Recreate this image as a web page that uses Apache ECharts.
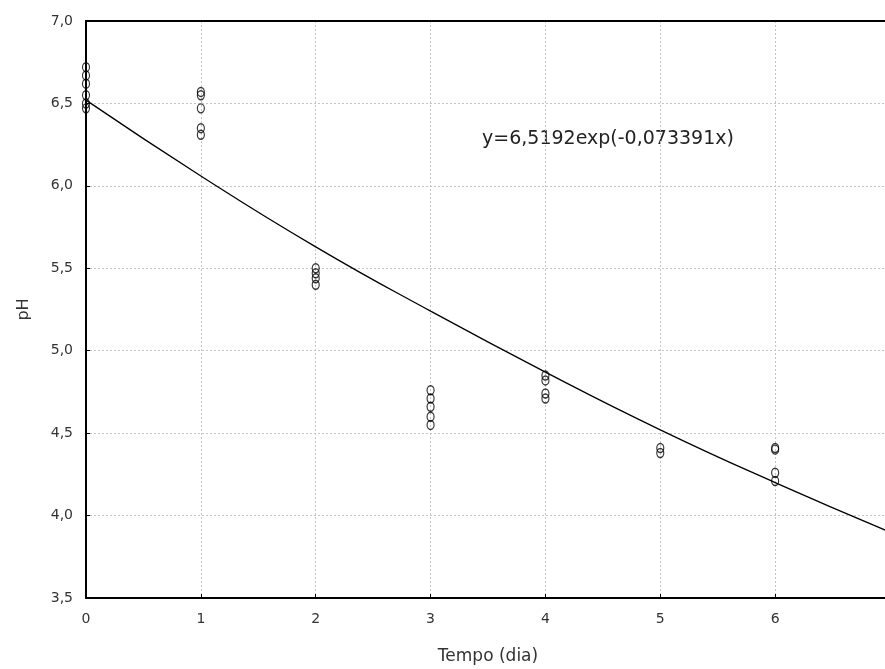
<!DOCTYPE html>
<html>
<head>
<meta charset="utf-8">
<script src="https://cdn.jsdelivr.net/npm/echarts@6/dist/echarts.min.js"></script>
<style>html,body{margin:0;padding:0;background:#fff}#c{width:885px;height:669px}</style>
</head>
<body>
<div id="c"></div>
<script>
// Observed data: day and pH
const obsDay = [0,0,0,0,0,0, 1,1,1,1,1, 2,2,2,2, 3,3,3,3,3, 4,4,4,4, 5,5, 6,6,6,6];
const obsPH  = [6.72,6.67,6.62,6.55,6.50,6.47, 6.57,6.55,6.47,6.35,6.31, 5.50,5.47,5.44,5.40, 4.76,4.71,4.66,4.60,4.55, 4.85,4.82,4.74,4.71, 4.41,4.38, 4.41,4.40,4.26,4.21];
// Fitted curve
const fitDay = [0,1,2,3,4,5,6,7];
const fitPH  = [6.52,6.06,5.63,5.24,4.87,4.52,4.20,3.90];
const xTicks = ['0','1','2','3','4','5','6',''];
const yTicks = ['3,5','4,0','4,5','5,0','5,5','6,0','6,5','7,0'];
const equation = 'y=6,5192exp(-0,073391x)';

const chart = echarts.init(document.getElementById('c'));
const font = 'DejaVu Sans, Arial, sans-serif';
chart.setOption({
  animation: false,
  backgroundColor: '#fff',
  grid: {left: 86, right: -5, top: 21, bottom: 71, outerBoundsMode: 'none', containLabel: false},
  xAxis: [{
    type: 'value', min: 0, max: 7, interval: 1,
    name: 'Tempo (dia)', nameLocation: 'middle', nameGap: 50,
    nameTextStyle: {fontFamily: font, fontSize: 17, color: '#333'},
    axisLine: {lineStyle: {color: '#000', width: 2}},
    axisTick: {inside: true, length: 4, lineStyle: {color: '#000'}},
    axisLabel: {fontFamily: font, fontSize: 14, color: '#333', margin: 14,
      formatter: v => xTicks[Math.round(v)]},
    splitLine: {show: true, lineStyle: {color: '#c4c4c4', type: [2,2], width: 1}}
  }, {
    type: 'value', position: 'top', min: 0, max: 7,
    axisLine: {show: true, lineStyle: {color: '#000', width: 2}},
    axisTick: {show: false}, axisLabel: {show: false}, splitLine: {show: false}
  }],
  yAxis: {
    type: 'value', min: 3.5, max: 7, interval: 0.5,
    name: 'pH', nameLocation: 'middle', nameGap: 54, nameRotate: 90,
    nameTextStyle: {fontFamily: font, fontSize: 16, color: '#333'},
    axisLine: {show: true, lineStyle: {color: '#000', width: 2}},
    axisTick: {show: true, inside: true, length: 4, lineStyle: {color: '#000'}},
    axisLabel: {fontFamily: font, fontSize: 14, color: '#333', margin: 13,
      formatter: v => yTicks[Math.round((v - 3.5) / 0.5)]},
    splitLine: {show: true, lineStyle: {color: '#c4c4c4', type: [2,2], width: 1}}
  },
  graphic: [{
    type: 'text', left: 482, top: 130,
    style: {text: equation, fontFamily: font, fontSize: 19, fill: '#222'}
  }],
  series: [{
    type: 'line', data: fitDay.map((d, i) => [d, fitPH[i]]),
    smooth: true, showSymbol: false, lineStyle: {color: '#000', width: 1.3}, z: 3
  }, {
    type: 'scatter', data: obsDay.map((d, i) => [d, obsPH[i]]),
    symbol: 'circle', symbolSize: [7, 9],
    itemStyle: {color: 'rgba(255,255,255,0)', borderColor: '#000', borderWidth: 1.3}, z: 4
  }]
});
</script>
</body>
</html>
